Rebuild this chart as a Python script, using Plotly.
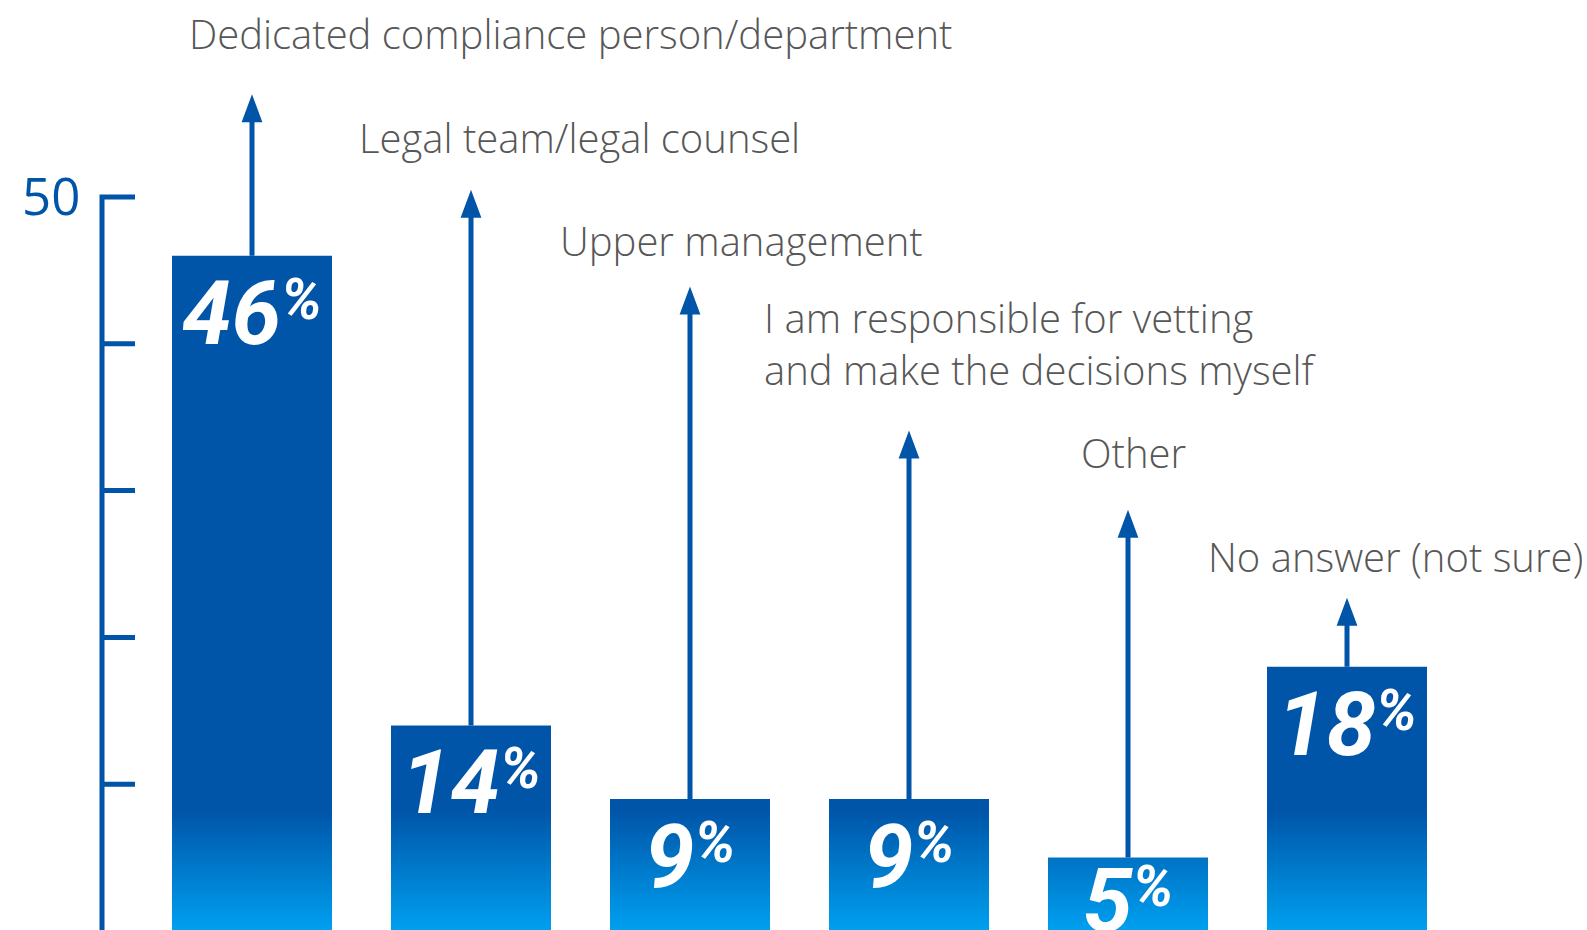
import plotly.graph_objects as go

# ---------------- data ----------------
categories = [
    "Dedicated compliance person/department",
    "Legal team/legal counsel",
    "Upper management",
    "I am responsible for vetting<br>and make the decisions myself",
    "Other",
    "No answer (not sure)",
]
values = [46, 14, 9, 9, 5, 18]
y_tick_vals = [10, 20, 30, 40, 50]
y_tick_labels = ["", "", "", "", "50"]

# ---------------- layout geometry (pixels / axis units) ----------------
W, H = 1587, 930
PX_X = 219.0          # px per category step
PX_Y = 14.68          # px per percentage point
X0_PX = 252.0         # px of first category centre
Y0_PX = 931.0         # px of value 0
x_range = [-X0_PX / PX_X, (W - X0_PX) / PX_X]
y_range = [(Y0_PX - H) / PX_Y, Y0_PX / PX_Y]

bar_w = 160 / PX_X
axis_x = (102 - X0_PX) / PX_X
tick_len = 33 / PX_X
arrow_top = [57.0, 50.5, 43.9, 34.1, 28.7, 22.7]       # arrow tip height (axis units)
label_y = [61.17, 54.05, 47.07, 39.99, 32.59, 25.54]   # category label centre (axis units)
label_dx = [-65, -114, -132, -147, -49, -141]          # label left edge offset from bar centre (px)
head_h = 28 / PX_Y
head_hw = 10.4 / PX_X

DARK = "#0055A8"
LIGHT = "#00A0F0"
GREY = "#575757"

fig = go.Figure()

# bars with vertical gradient
bx, by = [], []
for i, v in enumerate(values):
    bx += [i - bar_w / 2, i + bar_w / 2, i + bar_w / 2, i - bar_w / 2, i - bar_w / 2, None]
    by += [0, 0, v, v, 0, None]
fig.add_trace(go.Scatter(
    x=bx, y=by, mode="lines", fill="toself", line=dict(width=0),
    fillgradient=dict(type="vertical", colorscale=[[0, LIGHT], [1, DARK]], start=0, stop=8.2),
    hoverinfo="skip", showlegend=False,
))

# arrow shafts
sx, sy = [], []
for i, (v, t) in enumerate(zip(values, arrow_top)):
    sx += [i, i, None]
    sy += [v, t - head_h + 0.2, None]
fig.add_trace(go.Scatter(x=sx, y=sy, mode="lines", line=dict(color=DARK, width=5),
                         hoverinfo="skip", showlegend=False))

# arrow heads
hx, hy = [], []
for i, t in enumerate(arrow_top):
    hx += [i - head_hw, i + head_hw, i, i - head_hw, None]
    hy += [t - head_h, t - head_h, t, t - head_h, None]
fig.add_trace(go.Scatter(x=hx, y=hy, mode="lines", fill="toself", fillcolor=DARK,
                         line=dict(width=0), hoverinfo="skip", showlegend=False))

# y axis line + ticks
ax_x = [axis_x + tick_len, axis_x, axis_x, None]
ax_y = [max(y_tick_vals), max(y_tick_vals), 0, None]
for tv in y_tick_vals[:-1]:
    ax_x += [axis_x, axis_x + tick_len, None]
    ax_y += [tv, tv, None]
fig.add_trace(go.Scatter(x=ax_x, y=ax_y, mode="lines", line=dict(color=DARK, width=5),
                         hoverinfo="skip", showlegend=False))

annotations = []
for tv, tl in zip(y_tick_vals, y_tick_labels):
    if tl:
        annotations.append(dict(x=axis_x, y=tv, xref="x", yref="y", text=tl, showarrow=False,
                                xanchor="right", yanchor="middle", xshift=-20, yshift=2,
                                font=dict(family="Open Sans", size=51, color=DARK)))

# value labels inside bars
for i, v in enumerate(values):
    annotations.append(dict(
        x=i, y=v, xref="x", yref="y", showarrow=False, xanchor="center", yanchor="top",
        yshift=(12 if v < 6 else -3),
        text=(f"<b><i>{v}<span style='font-size:57px;baseline-shift:25px'>%</span></i></b>"),
        font=dict(family="Liberation Sans Narrow, Roboto, sans-serif", size=89, color="white"),
    ))

# category labels
for i, (c, ly, dx) in enumerate(zip(categories, label_y, label_dx)):
    annotations.append(dict(
        x=i, y=ly, xref="x", yref="y", text=c, showarrow=False, xanchor="left",
        yanchor="middle", xshift=dx, align="left",
        font=dict(family="Open Sans", size=40, color=GREY, weight=300),
    ))

fig.update_layout(
    width=W, height=H, margin=dict(l=0, r=0, t=0, b=0),
    paper_bgcolor="white", plot_bgcolor="white",
    xaxis=dict(range=x_range, visible=False, fixedrange=True),
    yaxis=dict(range=y_range, visible=False, fixedrange=True),
    annotations=annotations, showlegend=False,
)

fig.write_html("out.html", config={"displayModeBar": False},
               post_script="document.body.style.margin='0';")
